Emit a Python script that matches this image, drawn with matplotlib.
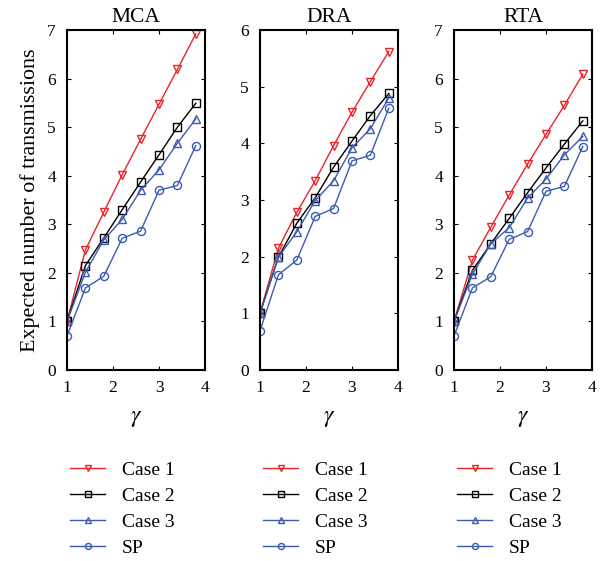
import matplotlib.pyplot as plt
from matplotlib.lines import Line2D

plt.rcParams['font.family'] = ['Liberation Serif', 'DejaVu Serif']
plt.rcParams['mathtext.fontset'] = 'stix'

gamma = [1.0, 1.4, 1.8, 2.2, 2.6, 3.0, 3.4, 3.8]

titles = ['MCA', 'DRA', 'RTA']
y_tops = [7, 6, 7]

case1 = [
    [1.0, 2.47, 3.25, 4.02, 4.75, 5.47, 6.19, 6.92],
    [1.0, 2.15, 2.78, 3.34, 3.96, 4.55, 5.09, 5.62],
    [1.0, 2.26, 2.94, 3.60, 4.24, 4.85, 5.45, 6.09],
]
case2 = [
    [1.0, 2.15, 2.72, 3.30, 3.87, 4.43, 5.00, 5.49],
    [1.0, 1.99, 2.59, 3.04, 3.58, 4.04, 4.49, 4.88],
    [1.0, 2.05, 2.60, 3.12, 3.65, 4.16, 4.65, 5.13],
]
case3 = [
    [1.0, 2.01, 2.68, 3.10, 3.70, 4.12, 4.67, 5.17],
    [1.0, 1.99, 2.44, 2.99, 3.34, 3.92, 4.26, 4.80],
    [1.0, 1.97, 2.60, 2.93, 3.54, 3.93, 4.43, 4.81],
]
sp = [
    [0.70, 1.69, 1.93, 2.71, 2.86, 3.70, 3.80, 4.62],
    [0.69, 1.68, 1.94, 2.71, 2.85, 3.69, 3.79, 4.62],
    [0.70, 1.69, 1.92, 2.69, 2.85, 3.68, 3.78, 4.60],
]

red = '#e8252b'
blue = '#3a5bb0'
styles = [
    ('Case 1', red, 'v'),
    ('Case 2', 'black', 's'),
    ('Case 3', blue, '^'),
    ('SP', blue, 'o'),
]

W, H = 611, 561
fig = plt.figure(figsize=(W / 100, H / 100), dpi=100)
lefts = [67, 260, 454]
ax_w, top, bottom = 138, 30, 370

for i, left in enumerate(lefts):
    ax = fig.add_axes([left / W, 1 - bottom / H, ax_w / W, (bottom - top) / H])
    for (label, color, marker), series in zip(styles, [case1, case2, case3, sp]):
        ax.plot(gamma, series[i], color=color, marker=marker, markersize=5.8,
                markerfacecolor='none', markeredgecolor=color,
                markeredgewidth=1.0, linewidth=1.0)
    ax.set_xlim(1, 4)
    ax.set_ylim(0, y_tops[i])
    ax.set_xticks([1, 2, 3, 4])
    ax.set_yticks(range(0, y_tops[i] + 1))
    ax.tick_params(direction='in', top=True, right=True, labelsize=12.5,
                   length=3, width=0.8, pad=7)
    ax.tick_params(axis='y', pad=8)
    for s in ax.spines.values():
        s.set_linewidth(1.5)
    ax.set_title(titles[i], fontsize=15.5, pad=6)
    ax.set_xlabel(r'$\gamma$', fontsize=17, labelpad=9)
    if i == 0:
        ax.set_ylabel('Expected number of transmissions', fontsize=15.8, labelpad=5)

    handles = [Line2D([], [], color=c, marker=m, markersize=5.8,
                      markerfacecolor='none', markeredgewidth=1.0, linewidth=1.0)
               for _, c, m in styles]
    fig.legend(handles, [s[0] for s in styles], loc='upper left',
               bbox_to_anchor=((left + 3) / W, 1 - 461 / H), frameon=False,
               fontsize=14, handlelength=1.8, handletextpad=0.87,
               labelspacing=0.43, borderaxespad=0, borderpad=0,
               markerscale=0.75)

fig.savefig('out.png', dpi=100)
